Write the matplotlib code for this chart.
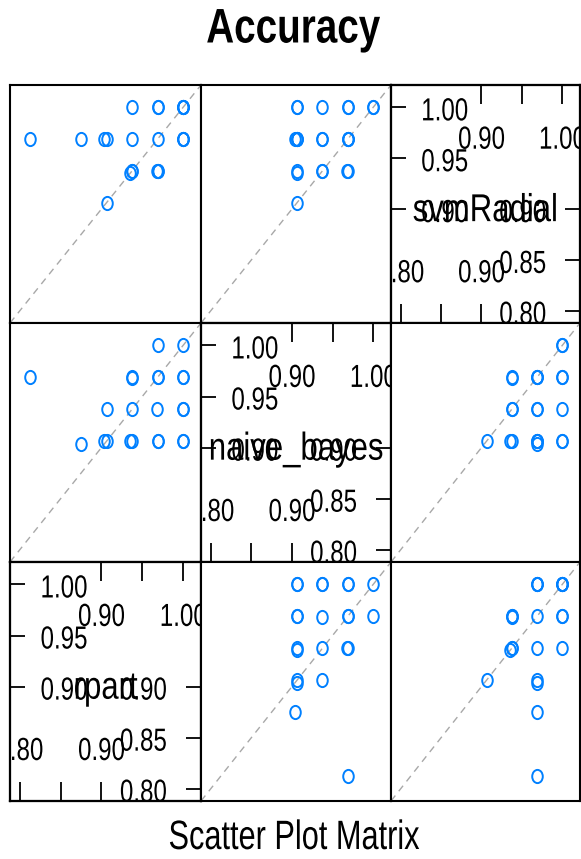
import numpy as np
import matplotlib.pyplot as plt
from matplotlib import patheffects
from matplotlib.path import Path
from matplotlib.transforms import Affine2D, ScaledTranslation

plt.rcParams['font.family'] = ['Liberation Sans', 'DejaVu Sans']

# resampled accuracy per model, one entry per resample
model_names = ['rpart', 'naive_bayes', 'svmRadial']
rpart = [0.8125, 0.875, 0.9063, 0.9063, 0.9688, 1.0, 0.9375, 0.9688, 1.0, 0.9375,
         0.9688, 1.0, 0.9375, 0.9688, 0.9677, 1.0, 0.9355, 1.0, 1.0, 1.0,
         0.9375, 0.9032, 0.9688]
naive_bayes = [0.9688, 0.9032, 0.9063, 0.9375, 1.0, 1.0, 0.9063, 0.9688, 0.9375, 0.9688,
               0.9063, 0.9688, 0.9375, 0.9688, 0.9375, 0.9063, 0.9063, 0.9063, 0.9688, 0.9375,
               0.9677, 0.9063, 0.9063]
svm_radial = [0.9688, 0.9688, 0.9063, 0.9688, 1.0, 1.0, 1.0, 1.0, 1.0, 0.9688,
              0.9688, 0.9688, 0.9375, 0.9375, 0.9375, 0.9688, 0.9355, 1.0, 1.0, 0.9688,
              0.9375, 0.9688, 0.9375]
model_values = [rpart, naive_bayes, svm_radial]

# axis annotation in the diagonal panels
bottom_ticks = [0.80, 0.85, 0.90]
bottom_labels = ['0.80', '', '0.90']
top_ticks = [0.90, 0.95, 1.00]
top_labels = ['0.90', '', '1.00']
left_ticks = [0.90, 0.95, 1.00]
left_labels = ['0.90', '0.95', '1.00']
right_ticks = [0.80, 0.85, 0.90]
right_labels = ['0.80', '0.85', '0.90']

lims = (0.788, 1.022)

W, H = 581, 859
col_edges = [10, 201, 391, 580]
row_edges = [85, 323, 562, 801]

point_color = '#0080ff'
circle = Path.unit_circle()
ellipse = Path(circle.vertices * np.array([0.8, 1.0]), circle.codes)


class Narrow(patheffects.AbstractPathEffect):
    """Draw text glyphs squeezed horizontally, like a condensed face."""

    def __init__(self, sx, ha='center'):
        super().__init__()
        self.sx = sx
        self.ha = ha

    def draw_path(self, renderer, gc, tpath, affine, rgbFace=None):
        verts = tpath.vertices
        if tpath.codes is not None:
            verts = verts[tpath.codes != Path.CLOSEPOLY]
        x0 = 0.0
        if len(verts):
            if self.ha == 'right':
                x0 = verts[:, 0].max()
            elif self.ha == 'center':
                x0 = 0.5 * (verts[:, 0].min() + verts[:, 0].max())
        squeeze = Affine2D().translate(-x0, 0).scale(self.sx, 1).translate(x0, 0)
        renderer.draw_path(gc, tpath, squeeze + affine, rgbFace)


def panel_rect(row, col):
    x0, x1 = col_edges[col], col_edges[col + 1]
    y0, y1 = row_edges[row], row_edges[row + 1]
    return [x0 / W, 1 - y1 / H, (x1 - x0) / W, (y1 - y0) / H]


def style_frame(ax):
    for spine in ax.spines.values():
        spine.set_linewidth(1.5)
        spine.set_color('black')


def draw_diagonal(fig, ax, name):
    ax.set_xticks(bottom_ticks)
    ax.set_yticks(left_ticks)
    ax.tick_params(axis='x', direction='in', length=13.5, width=1.3, labelbottom=False)
    ax.tick_params(axis='y', direction='in', length=11, width=1.3, labelleft=False)

    ax_right = ax.twinx()
    ax_right.set_ylim(lims)
    ax_right.set_yticks(right_ticks)
    ax_right.tick_params(axis='y', direction='in', length=11, width=1.3, labelright=False)
    ax_top = ax.twiny()
    ax_top.set_xlim(lims)
    ax_top.set_xticks(top_ticks)
    ax_top.tick_params(axis='x', direction='in', length=13.5, width=1.3, labeltop=False)
    for a in (ax_right, ax_top):
        style_frame(a)

    shift = ScaledTranslation(0, -5 / 100, fig.dpi_scale_trans)
    ytrans = ax.get_yaxis_transform() + shift
    xtrans = ax.get_xaxis_transform()
    kw = dict(fontsize=23, clip_on=True)
    for v, lab in zip(left_ticks, left_labels):
        ax.text(0.16, v, lab, transform=ytrans, ha='left', va='center',
                path_effects=[Narrow(0.755, 'left')], **kw)
    for v, lab in zip(right_ticks, right_labels):
        ax.text(0.822, v, lab, transform=ytrans, ha='right', va='center',
                path_effects=[Narrow(0.755, 'right')], **kw)
    for v, lab in zip(top_ticks, top_labels):
        ax.text(v, 0.766, lab, transform=xtrans, ha='center', va='center',
                path_effects=[Narrow(0.755)], **kw)
    for v, lab in zip(bottom_ticks, bottom_labels):
        ax.text(v, 0.205, lab, transform=xtrans, ha='center', va='center',
                path_effects=[Narrow(0.755)], **kw)

    ax.text(0.5, 0.47, name, transform=ax.transAxes, ha='center', va='center',
            fontsize=28, clip_on=True, path_effects=[Narrow(0.8)])


fig = plt.figure(figsize=(W / 100, H / 100), dpi=100)

for row in range(3):
    for col in range(3):
        xi = col
        yi = 2 - row
        ax = fig.add_axes(panel_rect(row, col))
        ax.set_xlim(lims)
        ax.set_ylim(lims)
        style_frame(ax)
        if xi == yi:
            draw_diagonal(fig, ax, model_names[xi])
        else:
            ax.set_xticks([])
            ax.set_yticks([])
            ax.axline((lims[0], lims[0]), slope=1, color='#a8a8a8', lw=1.0,
                      dashes=(5, 4), zorder=1)
            ax.plot(model_values[xi], model_values[yi], linestyle='none', marker=ellipse,
                    markersize=9.5, markerfacecolor='none', markeredgecolor=point_color,
                    markeredgewidth=1.4, zorder=2)

fig.text(293 / W, 1 - 30 / H, 'Accuracy', ha='center', va='center',
         fontsize=35, fontweight='bold', path_effects=[Narrow(0.795)])
fig.text(294 / W, 1 - 838 / H, 'Scatter Plot Matrix', ha='center', va='center',
         fontsize=29.5, path_effects=[Narrow(0.75)])

fig.savefig('out.png', dpi=100)
